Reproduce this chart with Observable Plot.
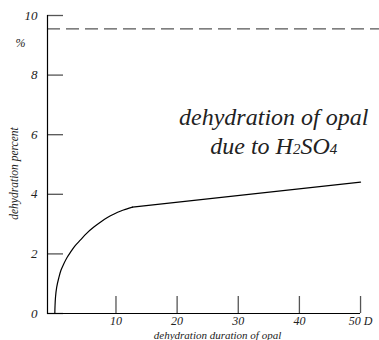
<!DOCTYPE html>
<html>
<head>
<meta charset="utf-8">
<script src="https://cdn.jsdelivr.net/npm/d3@7"></script>
<script src="https://cdn.jsdelivr.net/npm/@observablehq/plot@0.6"></script>
<style>
  html, body { margin: 0; padding: 0; background: #fff; }
  #chart { width: 379px; height: 340px; }
</style>
</head>
<body>
<div id="chart"></div>
<script>
// dehydration curve (days, percent)
const days    = [0, 0.03, 0.11, 0.3, 0.65, 1.0, 1.47, 2.0, 2.57, 3.3, 4.2, 5.2, 6.38, 7.5, 8.6, 9.7, 10.8, 11.8, 12.7, 50];
const percent = [0, 0.25, 0.55, 0.88, 1.2, 1.45, 1.67, 1.88, 2.06, 2.27, 2.47, 2.69, 2.9, 3.07, 3.22, 3.34, 3.44, 3.51, 3.57, 4.41];
// dashed reference level
const refLevel = [9.55];
// ticks
const xTicks = [10, 20, 30, 40, 50];
const yTicks = [0, 2, 4, 6, 8, 10];
const xTickLabels = ["10", "20", "30", "40", "50 D"];
const xDomain = [-1.2, 53.1];
const yDomain = [0, 10];
// texts
const xLabel = "dehydration duration of opal";
const yLabel = "dehydration percent";
const unitLabel = "%";
const annotation = "dehydration of opal\ndue to H2SO4";

const curve = days.map((d, i) => ({day: d, pct: percent[i]}));
const knee = curve.length - 2;
const arc = curve.slice(0, knee + 1);
const straight = curve.slice(knee);
const ink = "#222";
const tickInk = "#555";
const serif = "Liberation Serif";
const txt = {fontFamily: serif, fontStyle: "italic", fill: ink};

const W = 379, H = 340, mL = 47, mR = 0, mT = 15, mB = 27;
const frameW = W - mL - mR, frameH = H - mT - mB;

const chart = Plot.plot({
  width: W,
  height: H,
  marginLeft: mL,
  marginRight: mR,
  marginTop: mT,
  marginBottom: mB,
  style: {fontFamily: serif, fontStyle: "italic", fontSize: "11px", background: "#fff", color: ink},
  x: {domain: xDomain},
  y: {domain: yDomain},
  marks: [
    // dashed reference line across the whole width
    Plot.ruleY(refLevel, {stroke: tickInk, strokeWidth: 1.3, strokeDasharray: "13,6"}),
    // inward y ticks
    Plot.tickY(yTicks, {y: d => d, stroke: tickInk, strokeWidth: 1.3, insetRight: frameW - 16}),
    // inward x ticks
    Plot.tickX(xTicks, {x: d => d, stroke: tickInk, strokeWidth: 1.3, insetTop: frameH - 17}),
    // axis lines
    Plot.frame({anchor: "left", stroke: "#000", strokeWidth: 1.2}),
    Plot.ruleY([0], {x1: xDomain[0], x2: xTicks[xTicks.length - 1], stroke: "#000", strokeWidth: 1.2}),
    // tick labels
    Plot.axisY(yTicks, {tickSize: 0, tickPadding: 10, label: null, fontSize: 13, ...txt}),
    Plot.axisX(xTicks, {tickSize: 0, tickPadding: 3, label: null, fontSize: 12, ...txt,
      tickFormat: d => xTickLabels[xTicks.indexOf(d)]}),
    // curve
    Plot.line(arc, {x: "day", y: "pct", stroke: "#000", strokeWidth: 1.2, curve: "catmull-rom"}),
    Plot.line(straight, {x: "day", y: "pct", stroke: "#000", strokeWidth: 1.2}),
    // axis labels
    Plot.text([xLabel], {frameAnchor: "bottom", lineAnchor: "middle", dy: 22, dx: 4, fontSize: 11, ...txt}),
    Plot.text([yLabel], {frameAnchor: "left", textAnchor: "middle", lineAnchor: "middle", rotate: -90, dx: -33, dy: 9, fontSize: 11.5, ...txt}),
    Plot.text([unitLabel], {frameAnchor: "top-left", textAnchor: "middle", lineAnchor: "middle", dx: -27, dy: 28, fontSize: 12, ...txt}),
    // annotation
    Plot.text([annotation], {x: 35.8, y: 6.16, fontSize: 24, lineHeight: 1.2, ...txt})
  ]
});

// subscripts in H2SO4
chart.querySelectorAll("tspan, text").forEach(el => {
  if (el.children.length === 0 && el.textContent === "due to H2SO4") {
    el.textContent = "";
    const parts = [["due to H", null], ["2", 15], ["SO", null], ["4", 15]];
    for (const [t, fs] of parts) {
      const s = document.createElementNS("http://www.w3.org/2000/svg", "tspan");
      s.textContent = t;
      if (fs) s.setAttribute("font-size", fs);
      el.appendChild(s);
    }
  }
});

document.getElementById("chart").appendChild(chart);
</script>
</body>
</html>
